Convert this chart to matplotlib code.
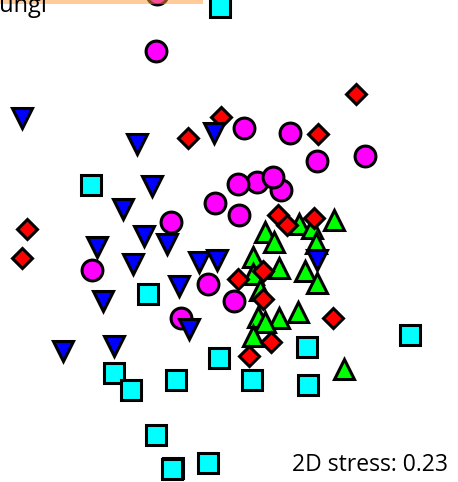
import matplotlib.pyplot as plt
from matplotlib.patches import Rectangle

# MDS ordination, coordinates (pixel space, y down)
green_x = [299, 333.5, 312, 264.5, 274, 316, 253, 278.5, 305, 317, 253, 260, 257.5, 279, 297.5, 265, 252.5, 344]
green_y = [224, 219.5, 228, 232, 242, 242.5, 257, 267.5, 271, 283, 274, 290, 316.5, 317.5, 311.5, 322, 335.5, 369]

red_x = [356, 221, 188, 318, 278, 287, 314, 27, 22, 262.5, 237.5, 263, 333, 271, 248.5]
red_y = [94, 117, 138, 134, 215, 224.5, 218, 229, 258, 271, 279, 298.5, 318, 342, 356]

magenta_x = [157, 155.5, 243.5, 289.5, 317, 364.5, 257, 280.5, 238, 273, 214.5, 238.5, 171, 91.5, 208, 234, 180.5]
magenta_y = [-6, 51, 128, 133, 161, 156, 182, 190, 184, 177, 203, 214.5, 222, 269.5, 283.5, 301, 317.5]

blue_x = [22, 137, 214, 152, 123, 144, 167, 96.5, 133, 199, 217, 317, 179, 103, 189, 63, 113.5]
blue_y = [118, 144, 133, 186, 209, 236, 244, 247, 263.5, 262, 259.5, 260, 286, 301, 329, 350.5, 345.5]

cyan_x = [219.5, 91, 148, 409.5, 307, 218.5, 114, 131, 175.5, 252, 308, 155.5, 172.5, 171.5, 208]
cyan_y = [7, 184.5, 293.5, 335, 347, 357.5, 373, 390, 379.5, 379.5, 384.5, 434.5, 467.5, 468.5, 463]

stress_label = "2D stress: 0.23"
legend_label = "Fungi"

fig = plt.figure(figsize=(4.58, 4.82), dpi=100)
ax = fig.add_axes([0, 0, 1, 1])
ax.set_xlim(0, 458)
ax.set_ylim(482, 0)
ax.axis('off')

common = dict(linestyle='none', markeredgecolor='black', markeredgewidth=2.2)
ax.plot(green_x, green_y, '^', color='#00ff00', markersize=15, **common)
ax.plot(red_x, red_y, 'D', color='#ff0000', markersize=10.5, **common)
ax.plot(magenta_x, magenta_y, 'o', color='#ff00ff', markersize=15, **common)
ax.plot(blue_x, blue_y, 'v', color='#0000ff', markersize=15, **common)
ax.plot(cyan_x, cyan_y, 's', color='#00ffff', markersize=14.5, **common)

# cut-off legend box at the top
ax.add_patch(Rectangle((-10, -20), 213, 24.3, facecolor='#ff9933', alpha=0.5,
                       edgecolor='none', zorder=5))
ax.text(-12, 12.5, legend_label, fontsize=17, family='Open Sans', va='baseline', zorder=6)

ax.text(292, 471, stress_label, fontsize=16.5, family='Open Sans', va='baseline')

fig.savefig('out.png', dpi=100)
